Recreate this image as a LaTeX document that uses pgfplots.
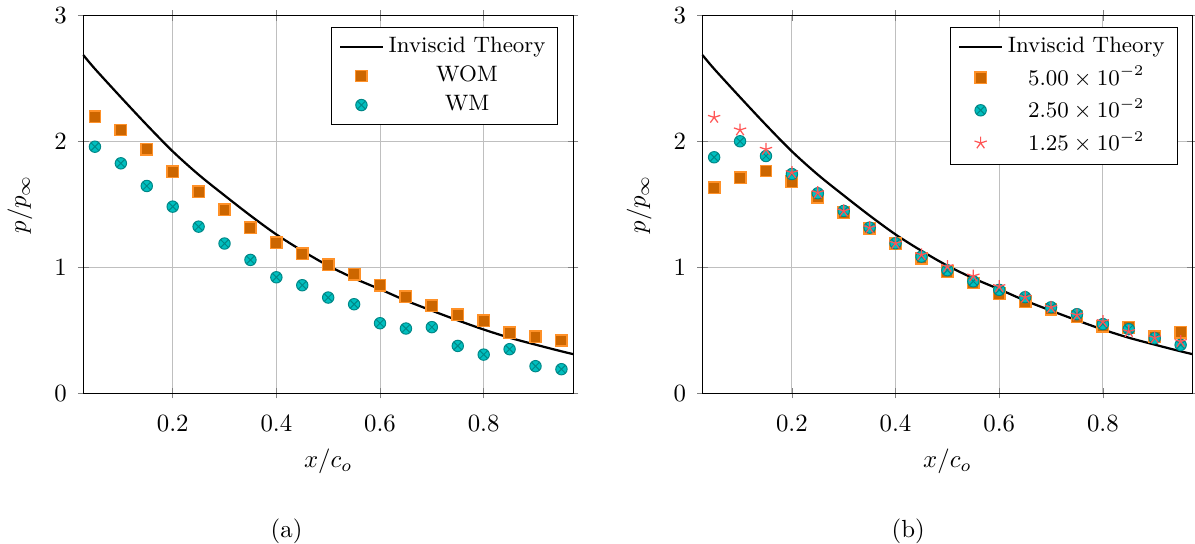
\documentclass[border=0pt]{standalone}
\usepackage{pgfplots}
\pgfplotsset{compat=1.18}
\usepackage{pgfplotstable}

\definecolor{sqfill}{RGB}{204,102,0}
\definecolor{sqdraw}{RGB}{255,145,40}
\definecolor{cifill}{RGB}{0,191,191}
\definecolor{cidraw}{RGB}{0,135,135}
\definecolor{stcol}{RGB}{255,85,85}

\pgfplotstableread{
x y
0.0275 2.685
0.05 2.575
0.1 2.35
0.15 2.13
0.2 1.92
0.25 1.735
0.3 1.57
0.35 1.41
0.4 1.26
0.45 1.13
0.5 1.012
0.55 0.912
0.6 0.825
0.65 0.735
0.7 0.655
0.75 0.578
0.8 0.505
0.85 0.44
0.9 0.385
0.95 0.332
0.9725 0.31
}\theory

\pgfplotstableread{
x y
0.05 2.195
0.10 2.09
0.15 1.936
0.20 1.759
0.25 1.60
0.30 1.457
0.35 1.314
0.40 1.195
0.45 1.106
0.50 1.02
0.55 0.944
0.60 0.857
0.65 0.764
0.70 0.693
0.75 0.624
0.80 0.574
0.85 0.479
0.90 0.447
0.95 0.418
}\wom

\pgfplotstableread{
x y
0.05 1.957
0.10 1.825
0.15 1.645
0.20 1.481
0.25 1.322
0.30 1.188
0.35 1.058
0.40 0.92
0.45 0.857
0.50 0.759
0.55 0.706
0.60 0.555
0.65 0.513
0.70 0.524
0.75 0.375
0.80 0.306
0.85 0.349
0.90 0.214
0.95 0.19
}\wm

\pgfplotstableread{
x y
0.05 1.632
0.10 1.711
0.15 1.764
0.20 1.679
0.25 1.556
0.30 1.433
0.35 1.31
0.40 1.186
0.45 1.071
0.50 0.965
0.55 0.875
0.60 0.788
0.65 0.727
0.70 0.667
0.75 0.608
0.80 0.529
0.85 0.524
0.90 0.449
0.95 0.484
}\ra

\pgfplotstableread{
x y
0.05 1.873
0.10 2.0
0.15 1.883
0.20 1.74
0.25 1.587
0.30 1.447
0.35 1.314
0.40 1.19
0.45 1.084
0.50 0.976
0.55 0.888
0.60 0.82
0.65 0.762
0.70 0.682
0.75 0.627
0.80 0.548
0.85 0.508
0.90 0.436
0.95 0.383
}\rb

\pgfplotstableread{
x y
0.05 2.19
0.10 2.09
0.15 1.936
0.20 1.751
0.25 1.592
0.30 1.447
0.35 1.314
0.40 1.19
0.45 1.098
0.50 1.005
0.55 0.93
0.60 0.846
0.65 0.762
0.70 0.682
0.75 0.62
0.80 0.568
0.85 0.489
0.90 0.44
0.95 0.41
}\rc

\pgfplotsset{
  mystyle/.style={
    scale only axis,
    width=197.6pt, height=152.4pt,
    xmin=0.0275, xmax=0.9725, ymin=0, ymax=3,
    xtick={0.2,0.4,0.6,0.8}, ytick={0,1,2,3},
    grid=major,
    grid style={black!25, line width=0.4pt},
    tick align=center,
    xticklabel style={yshift=-3.5pt},
    yticklabel style={xshift=-1pt},
    xlabel={$x/c_o$}, ylabel={$p/p_\infty$},
    ylabel shift=2pt,
    legend pos=north east,
    legend cell align=center,
    legend style={font=\small},
    clip=false,
  },
  sq/.style={only marks, mark=square*, mark size=2.3pt, mark options={fill=sqfill, draw=sqdraw, line width=0.6pt}},
  ci/.style={only marks, mark=otimes*, mark size=2.3pt, mark options={fill=cifill, draw=cidraw, line width=0.4pt}},
  st/.style={only marks, mark=star, mark size=2.6pt, mark options={draw=stcol, line width=0.5pt}},
  th/.style={black, line width=0.9pt, smooth, no marks},
}

\begin{document}
\begin{tikzpicture}
\begin{axis}[mystyle, name=left]
\addplot[th] table[x=x,y=y]{\theory};
\addlegendentry{Inviscid Theory}
\addplot[sq] table[x=x,y=y]{\wom};
\addlegendentry{WOM}
\addplot[ci] table[x=x,y=y]{\wm};
\addlegendentry{WM}
\node at (rel axis cs:0.415,0) [yshift=-55.8pt] {(a)};
\end{axis}
\begin{axis}[mystyle, name=right, xshift=249.8pt]
\addplot[th] table[x=x,y=y]{\theory};
\addlegendentry{Inviscid Theory}
\addplot[sq] table[x=x,y=y]{\ra};
\addlegendentry{$5.00\times10^{-2}$}
\addplot[ci] table[x=x,y=y]{\rb};
\addlegendentry{$2.50\times10^{-2}$}
\addplot[st] table[x=x,y=y]{\rc};
\addlegendentry{$1.25\times10^{-2}$}
\node at (rel axis cs:0.42,0) [yshift=-55.8pt] {(b)};
\end{axis}
\path (left.south west) ++(-33.6pt,-60.8pt) coordinate (bl);
\path (right.north east) ++(1.1pt,6.2pt) coordinate (tr);
\pgfresetboundingbox
\path (bl) rectangle (tr);
\end{tikzpicture}
\end{document}
